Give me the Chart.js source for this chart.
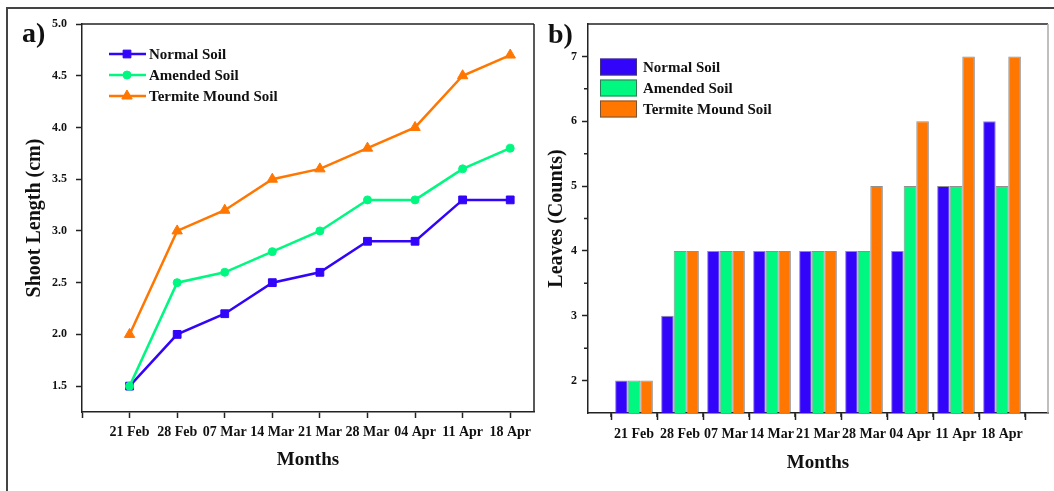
<!DOCTYPE html>
<html>
<head>
<meta charset="utf-8">
<title>Shoot length and leaves</title>
<script src="https://cdn.jsdelivr.net/npm/chart.js@4.4.1/dist/chart.umd.min.js"></script>
<style>
    body { margin: 0; background: #fff; width: 1054px; height: 491px; overflow: hidden; position: relative; }
    #frame { position: absolute; left: 6px; top: 7px; width: 1100px; height: 500px; border-top: 2px solid #444; border-left: 2px solid #444; }
    #shoot { position: absolute; left: 0; top: 0; }
    #leaves { position: absolute; left: 530px; top: 0; }
</style>
</head>
<body>
<div id="frame"></div>
<canvas id="shoot" width="545" height="491"></canvas>
<canvas id="leaves" width="524" height="491"></canvas>
<script>
// weeks on the x axis
const months = ['21 Feb', '28 Feb', '07 Mar', '14 Mar', '21 Mar', '28 Mar', '04 Apr', '11 Apr', '18 Apr'];
const seriesNames = ['Normal Soil', 'Amended Soil', 'Termite Mound Soil'];

// a) shoot length (cm)
const normalShoot = [1.5, 2.0, 2.2, 2.5, 2.6, 2.9, 2.9, 3.3, 3.3];
const amendedShoot = [1.5, 2.5, 2.6, 2.8, 3.0, 3.3, 3.3, 3.6, 3.8];
const termiteShoot = [2.0, 3.0, 3.2, 3.5, 3.6, 3.8, 4.0, 4.5, 4.7];

// b) leaves (counts)
const normalLeaves = [2, 3, 4, 4, 4, 4, 4, 5, 6];
const amendedLeaves = [2, 4, 4, 4, 4, 4, 5, 5, 5];
const termiteLeaves = [2, 4, 4, 4, 4, 5, 6, 7, 7];
const leavesTicks = [2, 3, 4, 5, 6, 7];

const colors = ['#3204fa', '#00f880', '#ff7600'];
const serif = "'Liberation Serif', 'Times New Roman', serif";
const ink = '#111';

Chart.defaults.font.family = serif;
Chart.defaults.font.weight = 'bold';
Chart.defaults.color = ink;

function points(values) {
    return values.map((v, i) => ({ x: i, y: v }));
}

function monthLabel(value) {
    return months[value] !== undefined ? months[value] : '';
}

// top and right edges of the plot box, plus the panel letter
function framePlugin(letter, lx, ly, rightColor) {
    return {
        id: 'frame',
        afterDraw(chart) {
            const ctx = chart.ctx;
            const a = chart.chartArea;
            ctx.save();
            ctx.lineWidth = 1.5;
            ctx.strokeStyle = '#222';
            ctx.beginPath();
            ctx.moveTo(a.left, a.top);
            ctx.lineTo(a.right, a.top);
            ctx.stroke();
            ctx.strokeStyle = rightColor;
            ctx.beginPath();
            ctx.moveTo(a.right, a.top);
            ctx.lineTo(a.right, a.bottom);
            ctx.stroke();
            ctx.fillStyle = ink;
            ctx.font = 'bold 28px ' + serif;
            ctx.textBaseline = 'alphabetic';
            ctx.fillText(letter, lx, ly);
            ctx.restore();
        }
    };
}

const lineLegend = {
    id: 'lineLegend',
    afterDraw(chart) {
        const ctx = chart.ctx;
        ctx.save();
        ctx.font = 'bold 15px ' + serif;
        ctx.textBaseline = 'middle';
        chart.data.datasets.forEach((ds, i) => {
            const y = 54 + i * 21;
            ctx.strokeStyle = ds.borderColor;
            ctx.fillStyle = ds.borderColor;
            ctx.lineWidth = ds.borderWidth;
            ctx.beginPath();
            ctx.moveTo(109, y);
            ctx.lineTo(146, y);
            ctx.stroke();
            ctx.lineWidth = 1;
            Chart.helpers.drawPoint(ctx, { pointStyle: ds.pointStyle, radius: ds.pointRadius, borderWidth: 1, rotation: 0 }, 127, y);
            ctx.fillStyle = ink;
            ctx.fillText(ds.label, 149, y + 1);
        });
        ctx.restore();
    }
};

const barLegend = {
    id: 'barLegend',
    afterDraw(chart) {
        const ctx = chart.ctx;
        ctx.save();
        ctx.font = 'bold 15px ' + serif;
        ctx.textBaseline = 'middle';
        chart.data.datasets.forEach((ds, i) => {
            const y = 67 + i * 21;
            ctx.fillStyle = ds.backgroundColor;
            ctx.fillRect(70, y - 8.5, 37, 17);
            ctx.strokeStyle = 'rgba(70,70,70,0.7)';
            ctx.lineWidth = 1;
            ctx.strokeRect(70.5, y - 8, 36, 16);
            ctx.fillStyle = ink;
            ctx.fillText(ds.label, 113, y + 1);
        });
        ctx.restore();
    }
};

// short unlabeled ticks half way between the major ones
const minorTicks = {
    id: 'minorTicks',
    afterDraw(chart) {
        const ctx = chart.ctx;
        const xs = chart.scales.x;
        const ys = chart.scales.y;
        const a = chart.chartArea;
        ctx.save();
        ctx.strokeStyle = '#222';
        ctx.lineWidth = 1.5;
        ctx.beginPath();
        for (let i = 0; i < xs.ticks.length - 1; i++) {
            const px = xs.getPixelForValue((xs.ticks[i].value + xs.ticks[i + 1].value) / 2);
            ctx.moveTo(px, a.bottom);
            ctx.lineTo(px, a.bottom + 4);
        }
        for (let i = 0; i < ys.ticks.length - 1; i++) {
            const py = ys.getPixelForValue((ys.ticks[i].value + ys.ticks[i + 1].value) / 2);
            ctx.moveTo(a.left, py);
            ctx.lineTo(a.left - 4, py);
        }
        ctx.stroke();
        ctx.restore();
    }
};

function axisStyle(tickLength) {
    return {
        grid: { drawOnChartArea: false, drawTicks: true, tickLength: tickLength, tickColor: '#222', tickWidth: 1.5 },
        border: { color: '#222', width: 1.5 }
    };
}

const shootStyles = ['rect', 'circle', 'triangle'];
const shootRadius = [5.5, 4, 6];
const shootOrder = [3, 2, 1];

new Chart(document.getElementById('shoot'), {
    type: 'line',
    data: {
        datasets: [normalShoot, amendedShoot, termiteShoot].map((vals, i) => ({
            label: seriesNames[i],
            data: points(vals),
            borderColor: colors[i],
            backgroundColor: colors[i],
            borderWidth: 2.5,
            pointStyle: shootStyles[i],
            pointRadius: shootRadius[i],
            pointBackgroundColor: colors[i],
            pointBorderColor: colors[i],
            pointBorderWidth: 1,
            order: shootOrder[i],
            tension: 0
        }))
    },
    options: {
        responsive: false,
        animation: false,
        devicePixelRatio: 1,
        layout: { padding: { top: 24, right: 11, left: 0, bottom: 0 } },
        plugins: { legend: { display: false }, tooltip: { enabled: false } },
        scales: {
            x: {
                type: 'linear',
                min: -1,
                max: 8.5,
                ...axisStyle(6),
                afterFit: (s) => { s.height = 79; },
                ticks: {
                    stepSize: 1,
                    includeBounds: false,
                    autoSkip: false,
                    maxRotation: 0,
                    padding: 6,
                    font: { size: 14, weight: 'bold' },
                    callback: monthLabel
                },
                title: { display: true, text: 'Months', font: { size: 19, weight: 'bold' }, padding: { top: 0, bottom: 20 } }
            },
            y: {
                type: 'linear',
                min: 1.25,
                max: 5.0,
                ...axisStyle(6),
                afterFit: (s) => { s.width = 82; },
                ticks: {
                    stepSize: 0.5,
                    includeBounds: false,
                    padding: 9,
                    font: { size: 12, weight: 'bold' },
                    callback: (v) => v.toFixed(1)
                },
                title: { display: true, text: 'Shoot Length (cm)', font: { size: 20, weight: 'bold' }, padding: { top: 23, bottom: 0 } }
            }
        }
    },
    plugins: [framePlugin('a)', 22, 42, '#222'), lineLegend]
});

new Chart(document.getElementById('leaves'), {
    type: 'bar',
    data: {
        datasets: [normalLeaves, amendedLeaves, termiteLeaves].map((vals, i) => ({
            label: seriesNames[i],
            data: points(vals),
            backgroundColor: colors[i],
            borderColor: 'rgba(70,70,70,0.6)',
            borderWidth: 1,
            categoryPercentage: 0.82,
            barPercentage: 1.0,
            clip: 0
        }))
    },
    options: {
        responsive: false,
        animation: false,
        devicePixelRatio: 1,
        layout: { padding: { top: 24, right: 1, left: 0, bottom: 0 } },
        plugins: { legend: { display: false }, tooltip: { enabled: false } },
        scales: {
            x: {
                type: 'linear',
                min: -1,
                max: 9,
                offset: false,
                ...axisStyle(7),
                afterFit: (s) => { s.height = 78; },
                ticks: {
                    stepSize: 1,
                    includeBounds: false,
                    autoSkip: false,
                    maxRotation: 0,
                    padding: 6,
                    font: { size: 14, weight: 'bold' },
                    callback: monthLabel
                },
                title: { display: true, text: 'Months', font: { size: 19, weight: 'bold' }, padding: { top: 0, bottom: 17 } }
            },
            y: {
                type: 'linear',
                min: 1.5,
                max: 7.5,
                ...axisStyle(6),
                afterFit: (s) => { s.width = 58; },
                afterBuildTicks: (s) => { s.ticks = leavesTicks.map((v) => ({ value: v })); },
                ticks: {
                    padding: 5,
                    font: { size: 12, weight: 'bold' }
                },
                title: { display: true, text: 'Leaves (Counts)', font: { size: 20, weight: 'bold' }, padding: { top: 15, bottom: 0 } }
            }
        }
    },
    plugins: [framePlugin('b)', 18, 43, '#aaa'), barLegend, minorTicks]
});
</script>
</body>
</html>
